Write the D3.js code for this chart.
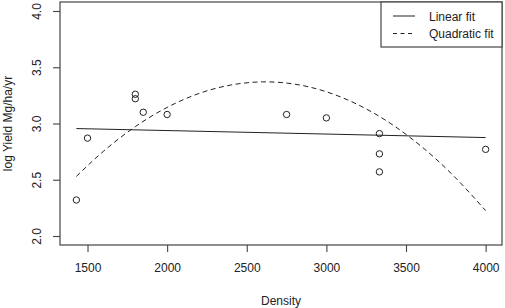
<!DOCTYPE html>
<html>
<head>
<meta charset="utf-8">
<script src="https://cdn.jsdelivr.net/npm/d3@7"></script>
<style>
  body { margin: 0; background: #fff; }
  svg text { font-family: "Liberation Sans", Arial, Helvetica, sans-serif; fill: #222; }
</style>
</head>
<body>
<div id="chart"></div>
<script>
// observed points
var density = [1430, 1500, 1800, 1800, 1850, 2000, 2750, 3000, 3333, 3333, 3333, 4000];
var logYield = [2.32, 2.87, 3.26, 3.22, 3.10, 3.08, 3.08, 3.05, 2.91, 2.73, 2.57, 2.77];

// fitted lines
var linearX = [1430, 4000];
var linearY = [2.955, 2.875];
var quadX = [1430, 1600, 1800, 2000, 2200, 2400, 2600, 2800, 3000, 3200, 3400, 3600, 3800, 4000];
var quadY = [2.53, 2.753, 2.972, 3.143, 3.267, 3.342, 3.370, 3.350, 3.282, 3.166, 3.003, 2.792, 2.533, 2.226];

var xTicks = [1500, 2000, 2500, 3000, 3500, 4000];
var yTicks = [2.0, 2.5, 3.0, 3.5, 4.0];
var legendLabels = ["Linear fit", "Quadratic fit"];

var width = 505, height = 308;
var pLeft = 60, pRight = 502, pTop = 2, pBottom = 245;

var svg = d3.select("#chart").append("svg")
    .attr("width", width)
    .attr("height", height);

var x = d3.scaleLinear().domain([1327.2, 4102.8]).range([pLeft, pRight]);
var y = d3.scaleLinear().domain([1.92, 4.08]).range([pBottom, pTop]);

var lineCol = "#444";

// x axis
var xAxis = svg.append("g")
    .attr("transform", "translate(0," + pBottom + ")")
    .call(d3.axisBottom(x).tickValues(xTicks).tickSize(7).tickPadding(11).tickFormat(d3.format("d")));
xAxis.select(".domain").remove();
xAxis.selectAll("line").attr("stroke", lineCol).attr("stroke-width", 1.1);
xAxis.selectAll("text").style("font-size", "12px").attr("fill", "#222");

// y axis (labels rotated like R)
var yAxis = svg.append("g")
    .attr("transform", "translate(" + pLeft + ",0)")
    .call(d3.axisLeft(y).tickValues(yTicks).tickSize(7).tickFormat(d3.format(".1f")));
yAxis.select(".domain").remove();
yAxis.selectAll("line").attr("stroke", lineCol).attr("stroke-width", 1.1);
yAxis.selectAll("text")
    .style("font-size", "12px")
    .attr("fill", "#222")
    .attr("text-anchor", "middle")
    .attr("x", 0)
    .attr("dy", null)
    .attr("transform", "translate(-23,0) rotate(-90)")
    .attr("y", 4);

// plot box
svg.append("rect")
    .attr("x", pLeft).attr("y", pTop)
    .attr("width", pRight - pLeft).attr("height", pBottom - pTop)
    .attr("fill", "none")
    .attr("stroke", lineCol)
    .attr("stroke-width", 1.2);

// axis titles
svg.append("text")
    .attr("x", (pLeft + pRight) / 2)
    .attr("y", 305)
    .attr("text-anchor", "middle")
    .style("font-size", "12px")
    .text("Density");

svg.append("text")
    .attr("transform", "translate(12," + ((pTop + pBottom) / 2) + ") rotate(-90)")
    .attr("text-anchor", "middle")
    .style("font-size", "12px")
    .text("log Yield Mg/ha/yr");

// fits
var fitLine = d3.line()
    .x(function (d) { return x(d[0]); })
    .y(function (d) { return y(d[1]); });

svg.append("path")
    .datum(d3.zip(linearX, linearY))
    .attr("d", fitLine)
    .attr("fill", "none")
    .attr("stroke", "#222")
    .attr("stroke-width", 1);

svg.append("path")
    .datum(d3.zip(quadX, quadY))
    .attr("d", fitLine.curve(d3.curveNatural))
    .attr("fill", "none")
    .attr("stroke", "#222")
    .attr("stroke-width", 1)
    .attr("stroke-dasharray", "5,3.5");

// points
svg.selectAll("circle.pt")
    .data(d3.zip(density, logYield))
    .enter()
    .append("circle")
    .attr("class", "pt")
    .attr("cx", function (d) { return x(d[0]); })
    .attr("cy", function (d) { return y(d[1]); })
    .attr("r", 3.2)
    .attr("fill", "none")
    .attr("stroke", "#222")
    .attr("stroke-width", 1);

// legend
var lg = svg.append("g");
lg.append("rect")
    .attr("x", 381).attr("y", pTop)
    .attr("width", pRight - 381).attr("height", 45)
    .attr("fill", "#fff")
    .attr("stroke", lineCol)
    .attr("stroke-width", 1.2);

var rows = lg.selectAll("g.row")
    .data(legendLabels)
    .enter()
    .append("g")
    .attr("class", "row")
    .attr("transform", function (d, i) { return "translate(0," + (16 + i * 17.5) + ")"; });

rows.append("line")
    .attr("x1", 393).attr("x2", 415)
    .attr("y1", 0).attr("y2", 0)
    .attr("stroke", "#222")
    .attr("stroke-width", 1)
    .attr("stroke-dasharray", function (d, i) { return i == 1 ? "4,3.5" : null; });

rows.append("text")
    .attr("x", 429)
    .attr("y", 4.5)
    .style("font-size", "12px")
    .text(function (d) { return d; });
</script>
</body>
</html>
